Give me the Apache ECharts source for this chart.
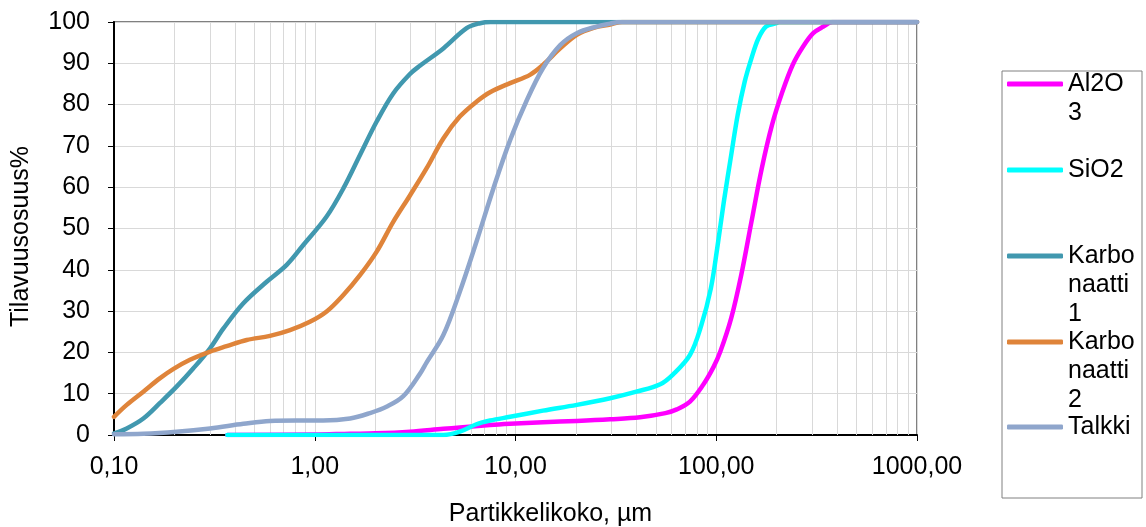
<!DOCTYPE html>
<html>
<head>
<meta charset="utf-8">
<script src="https://cdn.jsdelivr.net/npm/echarts@6/dist/echarts.min.js"></script>
<style>
  html, body { margin: 0; padding: 0; background: #fff; }
  #chart { width: 1146px; height: 527px; }
</style>
</head>
<body>
<div id="chart"></div>
<script>
// Particle size distributions (cumulative volume %, log size axis)
const seriesNames = ['Al2O3', 'SiO2', 'Karbonaatti 1', 'Karbonaatti 2', 'Talkki'];
const legendLabels = ['Al2O\n3', 'SiO2', 'Karbo\nnaatti\n1', 'Karbo\nnaatti\n2', 'Talkki'];
const seriesColors = ['#ff00ff', '#00ffff', '#4198af', '#df843a', '#8fa6cc'];

const al2o3Size = [0.367, 1.0, 1.5, 2.0, 2.98, 4.37, 5.28, 7.47, 9.4, 13.7, 20.2, 29.6, 41.7, 55.8, 63.6, 74.0, 85.9, 97.0, 104.8, 118.7, 133.1, 149.7, 168.6, 189.6, 213.5, 240.2, 270.3, 304.1, 342, 380, 1000];
const al2o3Vol  = [0, 0.1, 0.3, 0.4, 0.8, 1.5, 1.8, 2.4, 2.7, 3.1, 3.4, 3.8, 4.3, 5.3, 6.2, 8.1, 12.1, 16.5, 20.2, 28.3, 38.7, 51.6, 64.6, 75.1, 83.1, 89.6, 94.0, 97.3, 98.9, 100, 100];

const sio2Size = [0.367, 1, 2, 2.98, 4.37, 5.28, 6.39, 7.47, 9.4, 13.7, 20.2, 29.6, 40.0, 52.6, 61.0, 74.0, 84.3, 94.0, 101.1, 109.1, 118.7, 127.9, 138.5, 149.7, 162.1, 177.1, 199.3, 205, 1000];
const sio2Vol  = [0, 0, 0, 0, 0, 0.8, 2.6, 3.5, 4.4, 5.9, 7.3, 8.9, 10.5, 12.3, 14.7, 19.4, 26.6, 35.5, 45.2, 56.5, 67.8, 77.5, 85.5, 91.2, 96.0, 98.9, 99.7, 100, 100];

const karbo1Size = [0.1, 0.1157, 0.140, 0.169, 0.205, 0.248, 0.301, 0.351, 0.441, 0.576, 0.725, 0.877, 1.146, 1.388, 1.68, 2.035, 2.46, 2.98, 3.34, 4.37, 5.71, 6.66, 7.5, 1000];
const karbo1Vol  = [0.4, 1.6, 4.0, 7.7, 11.7, 16.1, 21.0, 25.8, 31.9, 37.1, 41.2, 46.0, 52.9, 59.7, 67.8, 75.9, 82.7, 87.4, 89.4, 93.6, 98.5, 99.7, 100, 100];

const karbo2Size = [0.1, 0.1157, 0.140, 0.169, 0.198, 0.239, 0.301, 0.364, 0.458, 0.598, 0.753, 0.946, 1.146, 1.388, 1.68, 2.035, 2.46, 2.98, 3.61, 4.37, 5.28, 6.39, 7.47, 9.40, 11.8, 13.7, 16.7, 20.2, 24.5, 29.6, 34, 1000];
const karbo2Vol  = [4.4, 7.3, 10.5, 13.7, 16.0, 18.2, 20.2, 21.5, 23.0, 24.0, 25.4, 27.4, 29.9, 33.9, 38.7, 44.4, 51.6, 58.0, 64.6, 71.8, 77.1, 80.7, 83.0, 85.2, 87.2, 89.6, 93.6, 96.9, 98.6, 99.4, 100, 100];

const talkkiSize = [0.1, 0.14, 0.205, 0.301, 0.441, 0.598, 0.81, 1.10, 1.50, 1.88, 2.29, 2.76, 3.34, 3.61, 4.37, 5.28, 6.39, 7.76, 9.40, 11.4, 13.7, 16.7, 20.2, 25.4, 29.6, 33, 1000];
const talkkiVol  = [0.2, 0.3, 0.8, 1.6, 2.7, 3.4, 3.5, 3.5, 4.0, 5.3, 6.9, 9.4, 14.8, 17.6, 24.2, 34.7, 46.8, 59.7, 71.4, 81.1, 88.8, 94.4, 97.3, 98.9, 99.6, 100, 100];

const sizeArrays = [al2o3Size, sio2Size, karbo1Size, karbo2Size, talkkiSize];
const volArrays = [al2o3Vol, sio2Vol, karbo1Vol, karbo2Vol, talkkiVol];

// x axis extent and y tick values
const xMin = 0.1, xMax = 1000;
const yTicks = [0, 10, 20, 30, 40, 50, 60, 70, 80, 90, 100];

// minor vertical grid: 2..9 within every decade
const minorGrid = [];
for (const d of [0.1, 1, 10, 100]) {
  for (let m = 2; m <= 9; m++) minorGrid.push(m * d);
}

const FONT = 'Liberation Sans, Arial, sans-serif';
const LH = 29;
const legendIconY = [84, 170, 256, 342, 427];

const chart = echarts.init(document.getElementById('chart'), null, { renderer: 'canvas' });

const series = seriesNames.map((name, i) => ({
  name: name,
  type: 'line',
  data: sizeArrays[i].map((x, k) => [x, volArrays[i][k]]),
  showSymbol: false,
  symbol: 'none',
  smooth: 0.35,
  lineStyle: { color: seriesColors[i], width: 4.5, cap: 'round', join: 'round' },
  itemStyle: { color: seriesColors[i] },
  z: 3 + i,
  animation: false,
  markLine: i === 0 ? {
    silent: true,
    symbol: 'none',
    z: 1,
    label: { show: false },
    lineStyle: { color: '#d9d9d9', width: 1, type: 'solid' },
    data: minorGrid.map(v => ({ xAxis: v })),
    animation: false
  } : undefined
}));

// one legend block per series; the marker sits beside the first text line,
// so the wrapped label is padded with empty lines above it
const legends = seriesNames.map((name, i) => {
  const n = legendLabels[i].split('\n').length;
  return {
    show: true,
    orient: 'vertical',
    left: 1007,
    top: legendIconY[i] - (2 * n - 1) * LH / 2,
    padding: 0,
    itemWidth: 56,
    itemHeight: 5,
    icon: 'roundRect',
    selectedMode: false,
    data: [name],
    formatter: () => '\n'.repeat(n - 1) + legendLabels[i],
    textStyle: {
      fontFamily: FONT,
      fontSize: 25,
      color: '#000',
      lineHeight: LH
    }
  };
});

chart.setOption({
  animation: false,
  backgroundColor: '#fff',
  grid: {
    left: 114, right: 229, top: 22, bottom: 92,
    outerBoundsMode: 'none',
    containLabel: false,
    show: true, borderColor: '#808080', borderWidth: 2, backgroundColor: 'transparent'
  },
  legend: legends,
  graphic: [{
    type: 'rect',
    shape: { x: 1002, y: 71, width: 140, height: 427 },
    style: { fill: 'none', stroke: '#808080', lineWidth: 1 },
    silent: true
  }],
  xAxis: {
    type: 'log',
    logBase: 10,
    min: xMin,
    max: xMax,
    name: 'Partikkelikoko, µm',
    nameLocation: 'middle',
    nameGap: 67,
    nameTextStyle: { fontFamily: FONT, fontSize: 25, color: '#000', padding: [0, 0, 0, 70] },
    axisLine: { show: true, onZero: false, lineStyle: { color: '#000', width: 2 } },
    axisTick: { show: true, inside: false, length: 6, lineStyle: { color: '#000', width: 1 } },
    axisLabel: {
      fontFamily: FONT, fontSize: 25, color: '#000', margin: 20,
      formatter: v => Number(v).toFixed(2).replace('.', ',')
    },
    splitLine: { show: true, lineStyle: { color: '#d9d9d9', width: 1 } },
    minorTick: { show: false },
    minorSplitLine: { show: false }
  },
  yAxis: {
    type: 'value',
    min: yTicks[0],
    max: yTicks[yTicks.length - 1],
    interval: 10,
    name: 'Tilavuusosuus%',
    nameLocation: 'middle',
    nameGap: 80,
    nameTextStyle: { fontFamily: FONT, fontSize: 25, color: '#000', padding: [0, 16, 0, 0] },
    axisLine: { show: true, lineStyle: { color: '#000', width: 2 } },
    axisTick: { show: true, inside: false, length: 6, lineStyle: { color: '#000', width: 1 } },
    axisLabel: { fontFamily: FONT, fontSize: 25, color: '#000', margin: 24 },
    splitLine: { show: true, lineStyle: { color: '#d9d9d9', width: 1.2 } }
  },
  series: series
});
</script>
</body>
</html>
